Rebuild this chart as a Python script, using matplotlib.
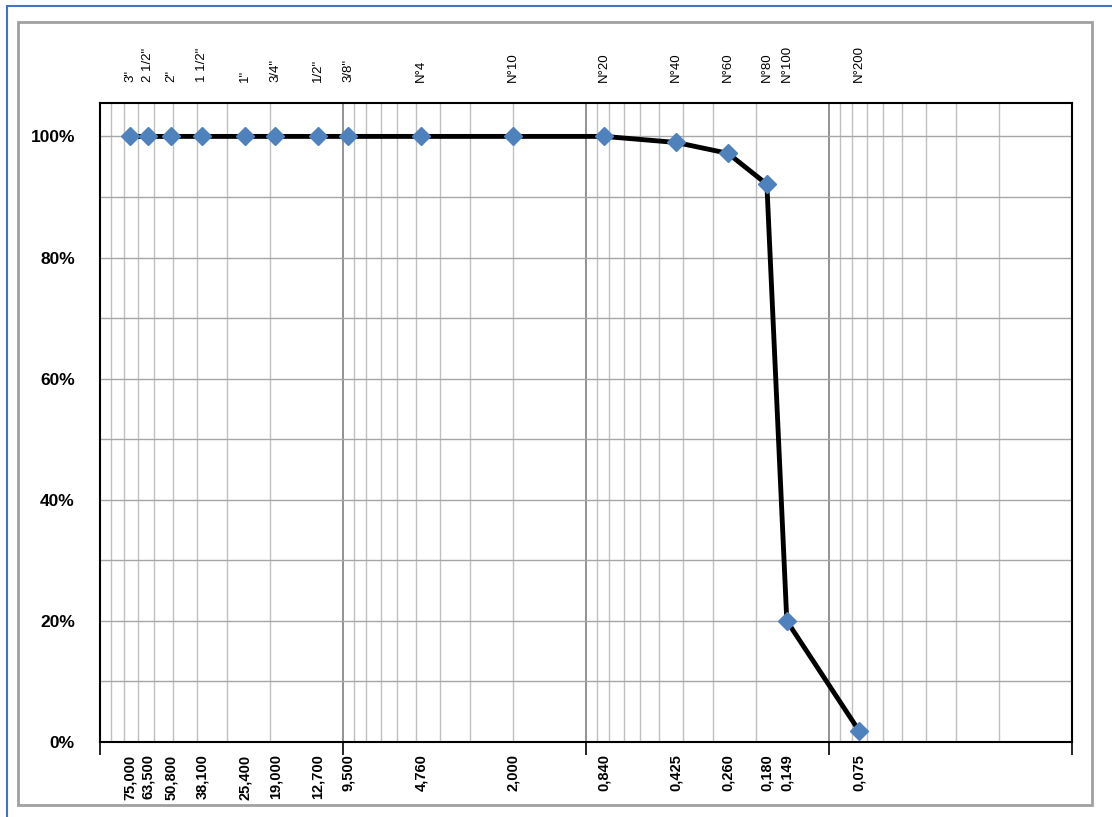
import matplotlib
matplotlib.use("Agg")
import matplotlib.pyplot as plt
from matplotlib.ticker import LogLocator, NullFormatter, MultipleLocator, FixedLocator
from matplotlib.patches import Rectangle

plt.rcParams['font.family'] = ['Liberation Sans', 'DejaVu Sans']

# sieve data
sieve_names = ['3"', '2 1/2"', '2"', '1 1/2"', '1"', '3/4"', '1/2"', '3/8"',
               'N°4', 'N°10', 'N°20', 'N°40', 'N°60', 'N°80', 'N°100', 'N°200']
sizes_mm = [75.0, 63.5, 50.8, 38.1, 25.4, 19.0, 12.7, 9.5,
            4.76, 2.0, 0.84, 0.425, 0.26, 0.18, 0.149, 0.075]
size_labels = ['75,000', '63,500', '50,800', '38,100', '25,400', '19,000', '12,700', '9,500',
               '4,760', '2,000', '0,840', '0,425', '0,260', '0,180', '0,149', '0,075']
passing = [1.0, 1.0, 1.0, 1.0, 1.0, 1.0, 1.0, 1.0,
           1.0, 1.0, 1.0, 0.99, 0.972, 0.921, 0.20, 0.018]

fig = plt.figure(figsize=(11.12, 8.17), dpi=100)
ax = fig.add_axes([0.0899, 0.0918, 0.874, 0.782])

ax.plot(sizes_mm, passing, color='black', lw=3.5, zorder=3)
ax.plot(sizes_mm, passing, ls='none', marker='D', ms=9, color='#4F81BD', zorder=4)

ax.set_xscale('log')
ax.set_xlim(100, 0.01)
ax.set_ylim(0, 1.055)

ax.xaxis.set_major_locator(LogLocator(base=10))
ax.xaxis.set_minor_locator(LogLocator(base=10, subs=range(2, 10)))
ax.xaxis.set_major_formatter(NullFormatter())
ax.xaxis.set_minor_formatter(NullFormatter())
ax.tick_params(axis='x', which='major', direction='out', length=9, width=1.2, top=False)
ax.tick_params(axis='x', which='minor', length=0)

ax.yaxis.set_minor_locator(MultipleLocator(0.1))
ax.set_yticks([0, 0.2, 0.4, 0.6, 0.8, 1.0])
ax.set_yticklabels(['0%', '20%', '40%', '60%', '80%', '100%'], fontsize=12.5, fontweight='bold')
ax.tick_params(axis='y', which='both', length=0, pad=18)

ax.grid(which='major', axis='x', color='#808080', lw=1.2)
ax.grid(which='minor', axis='x', color='#c0c0c0', lw=1.0)
ax.grid(which='both', axis='y', color='#a6a6a6', lw=1.0)
ax.set_axisbelow(True)
for s in ax.spines.values():
    s.set_color('black')
    s.set_linewidth(1.5)

# sieve size labels at bottom
bot = ax.secondary_xaxis('bottom')
bot.xaxis.set_major_locator(FixedLocator(sizes_mm))
bot.set_xticklabels(size_labels, rotation=90, fontsize=10.5, fontweight='bold')
bot.xaxis.set_minor_locator(FixedLocator([]))
bot.tick_params(length=0, pad=9)
bot.spines['bottom'].set_visible(False)

# sieve names at top
top = ax.secondary_xaxis('top')
top.xaxis.set_major_locator(FixedLocator(sizes_mm))
top.set_xticklabels(sieve_names, rotation=90, fontsize=9.5)
top.xaxis.set_minor_locator(FixedLocator([]))
top.tick_params(length=0, pad=15)
top.spines['top'].set_visible(False)

# chart frame
fig.patches.append(Rectangle((18/1112, 1-805/817), 1074/1112, 783/817, transform=fig.transFigure,
                             fill=False, ec='#a0a0a0', lw=2))
fig.patches.append(Rectangle((7/1112, -0.01), 1.1, 1-6/817+0.01, transform=fig.transFigure,
                             fill=False, ec='#4472C4', lw=1.5))

fig.savefig('out.png', dpi=100)
